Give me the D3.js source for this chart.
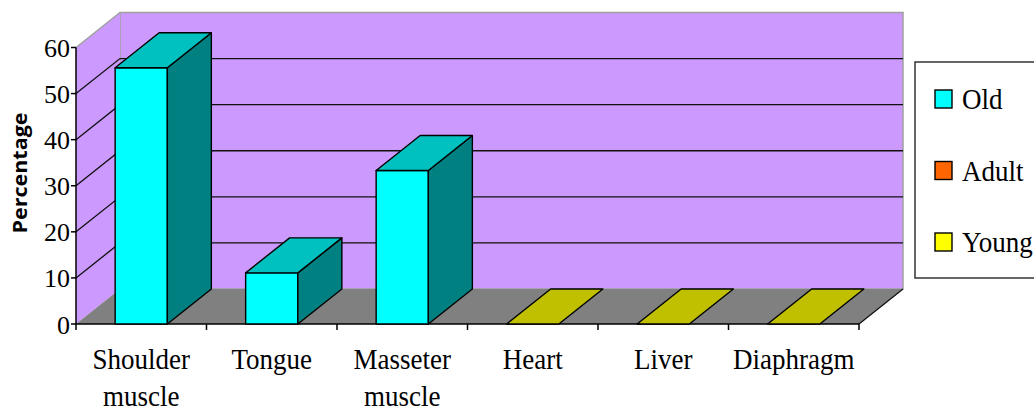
<!DOCTYPE html>
<html lang="en">
<head>
<meta charset="UTF-8" />
<script src="https://cdnjs.cloudflare.com/ajax/libs/d3/7.8.5/d3.min.js"></script>
<title>Percentage by muscle</title>
<style>
body { margin: 0; background: #fff; }
svg { display: block; }
</style>
</head>
<body>
<div id="chart"></div>
<script>

// data
const categories = [['Shoulder', 'muscle'], ['Tongue'], ['Masseter', 'muscle'], ['Heart'], ['Liver'], ['Diaphragm']];
const seriesNames = ['Old', 'Adult', 'Young'];
const oldValues = [55.6, 11.1, 33.3, 0, 0, 0];
const adultValues = [0, 0, 0, 0, 0, 0];
const youngValues = [0, 0, 0, 0, 0, 0];
const yTicks = [0, 10, 20, 30, 40, 50, 60];

const colors = {
  Old: { front: '#00FFFF', side: '#008080', top: '#00C0C0' },
  Adult: { front: '#FF6600', side: '#993300', top: '#CC5200' },
  Young: { front: '#FFFF00', side: '#808000', top: '#C0C000' }
};

const width = 1034, height = 412;
const dx = 44, dy = -35;   // 3d depth offset

const svg = d3.select('#chart').append('svg')
  .attr('width', width)
  .attr('height', height);

const x = d3.scaleBand()
  .domain(d3.range(categories.length))
  .range([76, 859])
  .paddingInner(0.6)
  .paddingOuter(0.3);

const y = d3.scaleLinear().domain([0, 60]).range([324, 47.5]);

const x0 = x.range()[0], x1 = x.range()[1];
const step = x.step();
const line = d3.line();

// walls
const walls = svg.append('g');
walls.append('polygon')
  .attr('points', [[x0 + dx, y(60) + dy], [x1 + dx, y(60) + dy], [x1 + dx, y(0) + dy], [x0 + dx, y(0) + dy]].join(' '))
  .style('fill', '#CC99FF')
  .style('stroke', '#A0A0A0')
  .style('stroke-width', 1.5);
walls.append('polygon')
  .attr('points', [[x0, y(0)], [x0 + dx, y(0) + dy], [x0 + dx, y(60) + dy], [x0, y(60)]].join(' '))
  .style('fill', '#CC99FF');
walls.append('path')
  .attr('d', line([[x0, y(60)], [x0 + dx, y(60) + dy]]))
  .style('stroke', '#A0A0A0')
  .style('stroke-width', 1.5);
walls.append('polygon')
  .attr('points', [[x0, y(0)], [x1, y(0)], [x1 + dx, y(0) + dy], [x0 + dx, y(0) + dy]].join(' '))
  .style('fill', '#808080');

// gridlines
walls.selectAll('.grid')
  .data(yTicks.filter(d => d > 0 && d < 60))
  .enter().append('path')
  .attr('class', 'grid')
  .attr('d', d => line([[x0, y(d)], [x0 + dx, y(d) + dy], [x1 + dx, y(d) + dy]]))
  .style('fill', 'none')
  .style('stroke', '#111')
  .style('stroke-width', 1.3);

// floor right edge
walls.append('path')
  .attr('d', line([[x1, y(0)], [x1 + dx, y(0) + dy]]))
  .style('stroke', '#111')
  .style('stroke-width', 1.3);

// axes
const axes = svg.append('g').style('stroke', '#000').style('stroke-width', 1.5);
axes.append('path').attr('d', line([[x0, y(60)], [x0, y(0)], [x1, y(0)]])).style('fill', 'none');
axes.selectAll('.ytick').data(yTicks).enter().append('path')
  .attr('d', d => line([[x0 - 5, y(d)], [x0, y(d)]]));
axes.selectAll('.xtick').data(d3.range(categories.length + 1)).enter().append('path')
  .attr('d', i => line([[x0 + i * step, y(0)], [x0 + i * step, y(0) + 6]]));

svg.append('g').selectAll('text').data(yTicks).enter().append('text')
  .attr('x', x0 - 6)
  .attr('y', d => y(d) + 1)
  .attr('text-anchor', 'end')
  .attr('dominant-baseline', 'central')
  .style('font-family', '"Liberation Serif", serif')
  .style('font-size', '26px')
  .style('fill', '#000')
  .text(d => d);

// bars (stacked, 3d)
const table = categories.map((c, i) => ({ Old: oldValues[i], Adult: adultValues[i], Young: youngValues[i] }));
const stacked = d3.stack().keys(seriesNames)(table);

const bars = svg.append('g').style('stroke', '#000').style('stroke-width', 1.4).style('stroke-linejoin', 'round');
categories.forEach((c, i) => {
  const bx = x(i), bw = x.bandwidth();
  let segs = stacked.map(s => ({ key: s.key, lo: s[i][0], hi: s[i][1] })).filter(s => s.hi > s.lo);
  if (!segs.length) segs = [{ key: seriesNames[seriesNames.length - 1], lo: 0, hi: 0 }];
  segs.forEach((s, k) => {
    const col = colors[s.key];
    const yt = y(s.hi), yb = y(s.lo);
    if (s.hi > s.lo) {
      bars.append('polygon')
        .attr('points', [[bx, yb], [bx + bw, yb], [bx + bw, yt], [bx, yt]].join(' '))
        .style('fill', col.front);
      bars.append('polygon')
        .attr('points', [[bx + bw, yb], [bx + bw + dx, yb + dy], [bx + bw + dx, yt + dy], [bx + bw, yt]].join(' '))
        .style('fill', col.side);
    }
    if (k === segs.length - 1) {
      bars.append('polygon')
        .attr('points', [[bx, yt], [bx + bw, yt], [bx + bw + dx, yt + dy], [bx + dx, yt + dy]].join(' '))
        .style('fill', col.top);
    }
  });
});

// category labels
const labels = svg.append('g')
  .style('font-family', '"Liberation Serif", serif')
  .style('font-size', '27px')
  .style('fill', '#000');
categories.forEach((lines, i) => {
  lines.forEach((t, j) => {
    labels.append('g')
      .attr('transform', `translate(${x0 + (i + 0.5) * step},${369 + j * 37}) scale(1,1.1)`)
      .append('text')
      .attr('text-anchor', 'middle')
      .text(t);
  });
});

// y axis title
svg.append('text')
  .attr('transform', 'translate(27,173) rotate(-90)')
  .attr('text-anchor', 'middle')
  .attr('textLength', 121)
  .attr('lengthAdjust', 'spacingAndGlyphs')
  .style('font-family', '"Open Sans", sans-serif')
  .style('font-weight', 'bold')
  .style('font-size', '20px')
  .text('Percentage');

// legend
const legend = svg.append('g');
legend.append('rect')
  .attr('x', 915).attr('y', 62)
  .attr('width', 140).attr('height', 216)
  .style('fill', '#fff')
  .style('stroke', '#333')
  .style('stroke-width', 1.5);
const ly = d3.scalePoint().domain(seriesNames).range([99, 242]);
const items = legend.selectAll('.item').data(seriesNames).enter().append('g')
  .attr('transform', d => `translate(935,${ly(d)})`);
items.append('rect')
  .attr('x', 0).attr('y', -9)
  .attr('width', 17).attr('height', 18)
  .style('fill', d => colors[d].front)
  .style('stroke', '#000')
  .style('stroke-width', 1.4);
items.append('g')
  .attr('transform', 'translate(27,10) scale(1,1.1)')
  .append('text')
  .style('font-family', '"Liberation Serif", serif')
  .style('font-size', '27px')
  .text(d => d);

</script>
</body>
</html>
